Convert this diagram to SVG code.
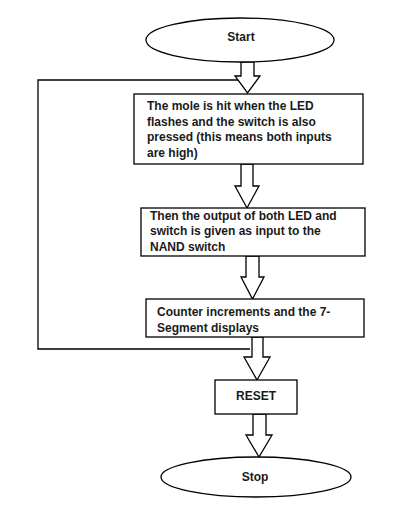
<svg xmlns="http://www.w3.org/2000/svg" width="413" height="518" viewBox="0 0 413 518">
<style>
.shape{fill:#fff;stroke:#000;stroke-width:1.3}
.line{fill:none;stroke:#000;stroke-width:1.3}
.t{font-family:"Liberation Sans",Arial,sans-serif;font-weight:bold;font-size:12px;fill:#1a1a1a}
.c{text-anchor:middle}
</style>
<rect width="413" height="518" fill="#fff"/>
<g id="connectors">
<polyline class="line" points="250,349 38,349 38,80 241,80"/>
<polygon class="shape" points="241,62 254,62 254,76 260,76 247.5,93 235,76 241,76"/>
<polygon class="shape" points="241,164 253,164 253,186 259,186 247,208 235,186 241,186"/>
<polygon class="shape" points="246,256 259,256 259,277 264,277 252.5,299 241,277 246,277"/>
<polygon class="shape" points="252,337 263,337 263,357 270,357 257,380 244,357 252,357"/>
<polygon class="shape" points="253,414 266,414 266,435 272,435 259,457 246,435 253,435"/>
</g>
<g id="start">
<ellipse class="shape" cx="240" cy="40" rx="94" ry="22"/>
<text class="t c" x="241" y="40.5">Start</text>
</g>
<g id="hit">
<rect class="shape" x="134" y="94" width="229" height="70"/>
<text class="t" x="147" y="110">The mole is hit when the LED</text>
<text class="t" x="147" y="125.5">flashes and the switch is also</text>
<text class="t" x="147" y="141">pressed (this means both inputs</text>
<text class="t" x="147" y="156.5">are high)</text>
</g>
<g id="nand">
<rect class="shape" x="141" y="208" width="224" height="48"/>
<text class="t" x="150" y="219.5">Then the output of both LED and</text>
<text class="t" x="150" y="235">switch is given as input to the</text>
<text class="t" x="150" y="250.5">NAND switch</text>
</g>
<g id="counter">
<rect class="shape" x="146" y="299" width="218" height="38"/>
<text class="t" x="157" y="316">Counter increments and the 7-</text>
<text class="t" x="157" y="331.5">Segment displays</text>
</g>
<g id="reset">
<rect class="shape" x="215" y="380" width="82" height="34"/>
<text class="t c" x="256" y="400">RESET</text>
</g>
<g id="stop">
<ellipse class="shape" cx="256" cy="477" rx="95" ry="20"/>
<text class="t c" x="255" y="481">Stop</text>
</g>
</svg>
